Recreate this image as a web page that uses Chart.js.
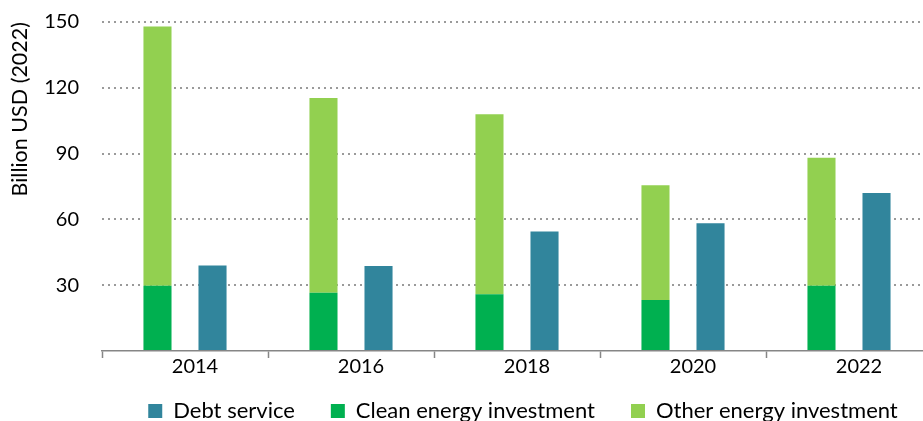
<!DOCTYPE html>
<html><head><meta charset="utf-8">
<script src="https://cdn.jsdelivr.net/npm/chart.js@4.4.1/dist/chart.umd.min.js"></script>
<style>
html,body{margin:0;padding:0;overflow:hidden;background:#fff;width:923px;height:421px}
#wrap{position:absolute;left:0;top:0;width:932px;height:449px}
</style>
</head><body><div id="wrap"><canvas id="c"></canvas></div>
<script>
const years = ['2014', '2016', '2018', '2020', '2022'];
const debtService = [39, 38.8, 54.5, 58.3, 72];
const cleanEnergy = [29.8, 26.6, 25.9, 23.3, 29.8];
const otherEnergy = [118.2, 88.8, 82, 52.3, 58.3];
const yTickValues = [30, 60, 90, 120, 150];
const seriesNames = ['Debt service', 'Clean energy investment', 'Other energy investment'];

const FONT = 'Lato';
const legendOrder = {0: 1, 1: 2, 2: 0};

// nudge the legend block to where the reference places it
const legendNudge = {
  id: 'legendNudge',
  afterLayout(chart) {
    const l = chart.legend;
    if (!l) return;
    const dx = 57, dy = 17;
    l.left += dx; l.right += dx;
    l.top -= dy; l.bottom -= dy;
  }
};

new Chart(document.getElementById('c'), {
  type: 'bar',
  data: {
    labels: years,
    datasets: [
      {label: seriesNames[1], data: cleanEnergy, backgroundColor: '#00B050', stack: 'inv',
       categoryPercentage: 0.663, barPercentage: 0.51},
      {label: seriesNames[2], data: otherEnergy, backgroundColor: '#92D050', stack: 'inv',
       categoryPercentage: 0.663, barPercentage: 0.51},
      {label: seriesNames[0], data: debtService, backgroundColor: '#31859C', stack: 'debt',
       categoryPercentage: 0.663, barPercentage: 0.51}
    ]
  },
  plugins: [legendNudge],
  options: {
    responsive: true,
    maintainAspectRatio: false,
    animation: false,
    layout: {padding: {top: 22, left: 0, right: 0, bottom: 0}},
    plugins: {
      tooltip: {enabled: false},
      legend: {
        position: 'bottom',
        labels: {
          boxWidth: 14, boxHeight: 14, padding: 36, color: '#000',
          font: {family: FONT, size: 22},
          sort: (a, b) => legendOrder[a.datasetIndex] - legendOrder[b.datasetIndex]
        }
      }
    },
    scales: {
      x: {
        stacked: true,
        offset: true,
        afterFit: s => { s.height = 30; },
        grid: {offset: true, drawOnChartArea: false, tickLength: 7, tickColor: '#868686', tickWidth: 1.5, color: '#868686'},
        border: {color: '#868686', width: 1.5},
        ticks: {color: '#000', font: {family: FONT, size: 20}, padding: -3, labelOffset: 10, maxRotation: 0, autoSkip: false}
      },
      y: {
        stacked: true,
        min: 0, max: 150,
        afterFit: s => { s.width = 102; s.paddingTop = 0; s.paddingBottom = 0; },
        afterBuildTicks: s => { s.ticks = [0].concat(yTickValues).map(v => ({value: v})); },
        border: {display: false, dash: [2, 4]},
        grid: {drawTicks: false, lineWidth: 2, color: c => (c.tick && c.tick.value === 0) ? 'rgba(0,0,0,0)' : '#9A9A9A'},
        ticks: {color: '#000', font: {family: FONT, size: 20}, padding: 23,
                callback: v => v === 0 ? '' : String(v)},
        title: {display: true, text: 'Billion USD (2022)', align: 'end', color: '#000',
                font: {family: FONT, size: 21.5}, padding: {top: 7, bottom: 0}}
      }
    }
  }
});
</script>
</body></html>
